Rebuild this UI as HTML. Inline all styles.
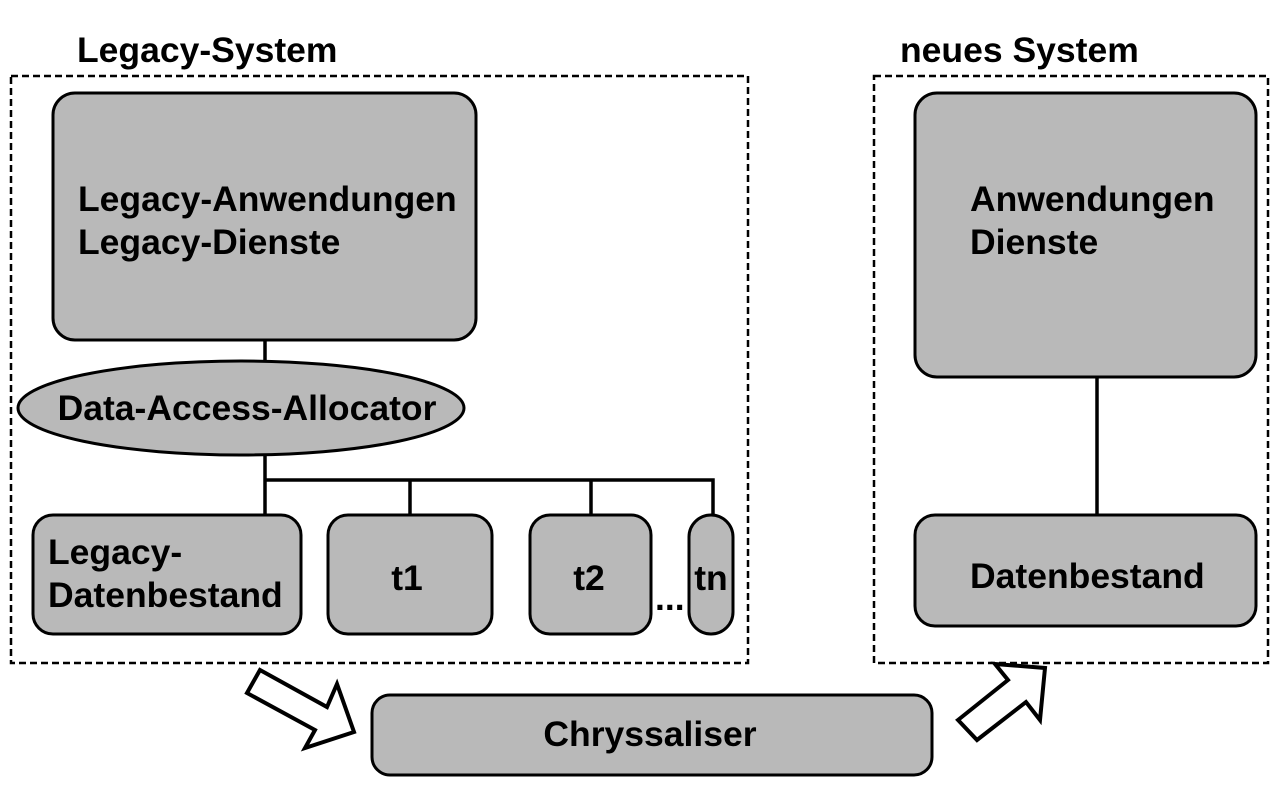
<!DOCTYPE html>
<html><head><meta charset="utf-8"><style>
html,body{margin:0;padding:0;background:#fff;}
svg{display:block;}
text{font-family:"Liberation Sans",Arial,sans-serif;font-weight:bold;font-size:35.5px;fill:#000;}
</style></head><body>
<svg width="1280" height="800" viewBox="0 0 1280 800">
<g fill="none" stroke="#000" stroke-width="2.5" stroke-dasharray="7,4">
<rect x="11" y="76" width="737" height="587"/>
<rect x="874" y="76" width="394" height="587"/>
</g>
<text x="77" y="62">Legacy-System</text>
<text x="900" y="62">neues System</text>
<g stroke="#000" stroke-width="3.5" fill="none">
<line x1="265" y1="340" x2="265" y2="362"/>
<line x1="265" y1="455" x2="265" y2="517"/>
<polyline points="265,480 713,480 713,517"/>
<line x1="410" y1="480" x2="410" y2="517"/>
<line x1="591" y1="480" x2="591" y2="517"/>
<line x1="1097" y1="377" x2="1097" y2="517"/>
</g>
<g fill="#b9b9b9" stroke="#000" stroke-width="3">
<rect x="53" y="93" width="423" height="247" rx="22"/>
<ellipse cx="241" cy="408" rx="223" ry="47"/>
<rect x="33" y="515" width="268" height="119" rx="20"/>
<rect x="328" y="515" width="164" height="119" rx="20"/>
<rect x="530" y="515" width="121" height="119" rx="20"/>
<rect x="689" y="515" width="44" height="119" rx="22"/>
<rect x="915" y="93" width="341" height="284" rx="22"/>
<rect x="915" y="515" width="341" height="111" rx="20"/>
<rect x="372" y="695" width="560" height="80" rx="18"/>
</g>
<g fill="#fff" stroke="#000" stroke-width="4" stroke-linejoin="miter">
<polygon points="260,670 327,707 337,684 354,732 305,748 315,730 247,693"/>
<polygon points="958,720 1008,680 995,664 1045,668 1040,720 1026,702 977,740"/>
</g>
<text x="78" y="211">Legacy-Anwendungen</text>
<text x="78" y="254">Legacy-Dienste</text>
<text x="247" y="420" text-anchor="middle">Data-Access-Allocator</text>
<text x="48" y="564">Legacy-</text>
<text x="48" y="607">Datenbestand</text>
<text x="407" y="590" text-anchor="middle">t1</text>
<text x="589" y="590" text-anchor="middle">t2</text>
<text x="711" y="590" text-anchor="middle">tn</text>
<text x="655" y="610">...</text>
<text x="970" y="211">Anwendungen</text>
<text x="970" y="254">Dienste</text>
<text x="970" y="588">Datenbestand</text>
<text x="650" y="746" text-anchor="middle">Chryssaliser</text>
</svg>
</body></html>
